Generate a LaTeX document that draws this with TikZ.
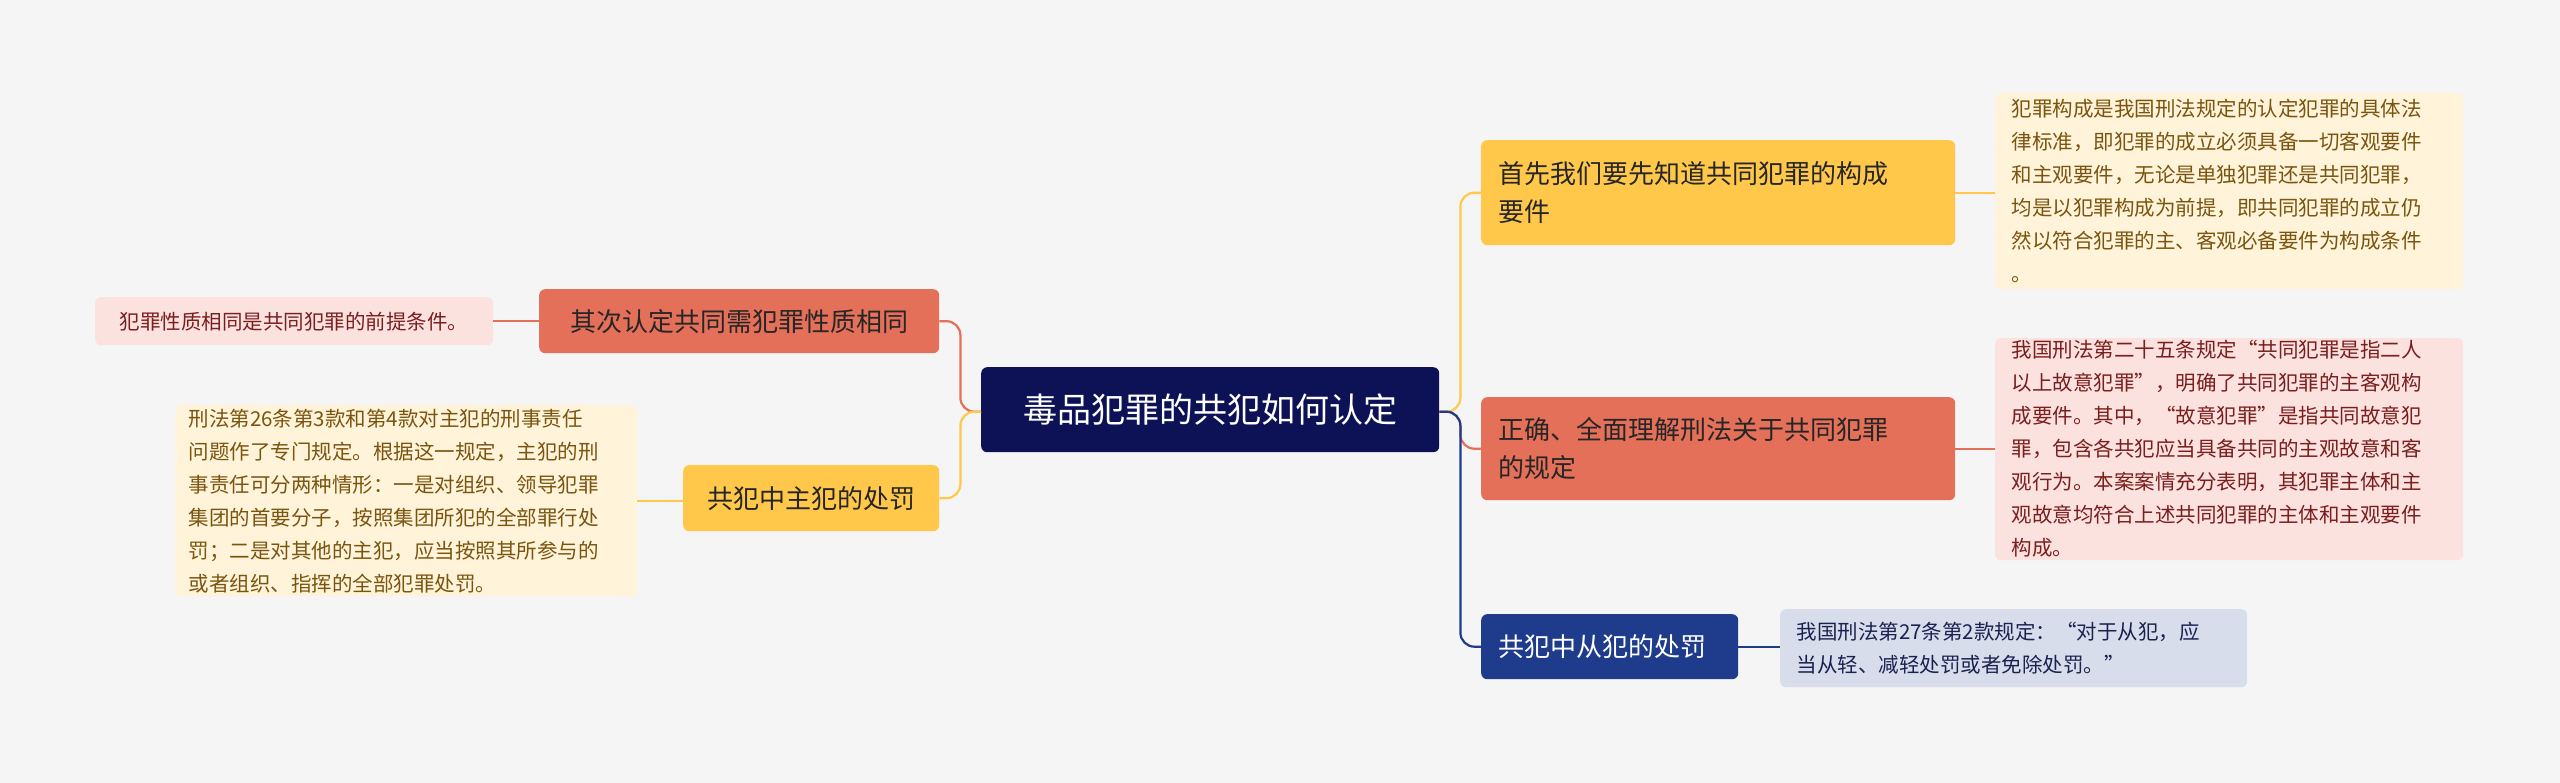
\documentclass[tikz,border=0pt]{standalone}
\usepackage{fontspec}
\setmainfont{Noto Sans CJK SC}
\begin{document}
\begin{tikzpicture}[x=1pt,y=-1pt,
 box/.style={rounded corners=6pt,inner sep=0pt,anchor=north west,align=left},
 leaftxt/.style={font=\fontsize{20.5}{33}\selectfont},
 brtxt/.style={font=\fontsize{26}{38}\selectfont},
 con/.style={line width=2.2pt,rounded corners=14pt}]
\definecolor{bg}{HTML}{F5F5F5}
\definecolor{navy}{HTML}{0D1155}
\definecolor{yel}{HTML}{FFC84A}
\definecolor{yell}{HTML}{FFF3D9}
\definecolor{yelt}{HTML}{7A5510}
\definecolor{sal}{HTML}{E5705A}
\definecolor{pink}{HTML}{FBE2DF}
\definecolor{pinkt}{HTML}{7A1E1E}
\definecolor{blu}{HTML}{1F3C8C}
\definecolor{blul}{HTML}{D8DDEC}
\definecolor{blut}{HTML}{1A2250}
\fill[bg] (0,0) rectangle (2560,783);
\useasboundingbox (0,0) rectangle (2560,783);
% center
\node[box,fill=navy,minimum width=458pt,minimum height=85pt] (c) at (981,367) {};
\node[text=white,font=\fontsize{34}{40}\selectfont] (ct) at (c.center) {毒品犯罪的共犯如何认定};
% right branches
\node[box,fill=yel,minimum width=474pt,minimum height=105pt] (r1) at (1481,140) {};
\node[brtxt,anchor=west,align=left,text=black!85] (r1t) at ([xshift=14pt]r1.west) {首先我们要先知道共同犯罪的构成\\要件};
\node[box,fill=sal,minimum width=474pt,minimum height=103pt] (r2) at (1481,397) {};
\node[brtxt,anchor=west,align=left,text=black!85] (r2t) at ([xshift=14pt]r2.west) {正确、全面理解刑法关于共同犯罪\\的规定};
\node[box,fill=blu,minimum width=257pt,minimum height=65pt] (r3) at (1481,614) {};
\node[brtxt,anchor=west,text=white] (r3t) at ([xshift=14pt]r3.west) {共犯中从犯的处罚};
% right leaves
\node[box,fill=yell,minimum width=468pt,minimum height=196pt] (l1) at (1995,93) {};
\node[leaftxt,anchor=west,align=left,text=yelt] (l1t) at ([xshift=13pt]l1.west) {犯罪构成是我国刑法规定的认定犯罪的具体法\\律标准，即犯罪的成立必须具备一切客观要件\\和主观要件，无论是单独犯罪还是共同犯罪，\\均是以犯罪构成为前提，即共同犯罪的成立仍\\然以符合犯罪的主、客观必备要件为构成条件\\。};
\node[box,fill=pink,minimum width=468pt,minimum height=222pt] (l2) at (1995,338) {};
\node[leaftxt,anchor=west,align=left,text=pinkt] (l2t) at ([xshift=13pt]l2.west) {我国刑法第二十五条规定“共同犯罪是指二人\\以上故意犯罪”，明确了共同犯罪的主客观构\\成要件。其中，“故意犯罪”是指共同故意犯\\罪，包含各共犯应当具备共同的主观故意和客\\观行为。本案案情充分表明，其犯罪主体和主\\观故意均符合上述共同犯罪的主体和主观要件\\构成。};
\node[box,fill=blul,minimum width=467pt,minimum height=78pt] (l3) at (1780,609) {};
\node[leaftxt,anchor=west,align=left,text=blut] (l3t) at ([xshift=13pt]l3.west) {我国刑法第27条第2款规定：“对于从犯，应\\当从轻、减轻处罚或者免除处罚。”};
% left branches
\node[box,fill=sal,minimum width=400pt,minimum height=64pt] (a1) at (539,289) {};
\node[brtxt,text=black!85] (a1t) at (a1.center) {其次认定共同需犯罪性质相同};
\node[box,fill=yel,minimum width=256pt,minimum height=66pt] (a2) at (683,465) {};
\node[brtxt,text=black!85] (a2t) at (a2.center) {共犯中主犯的处罚};
\node[box,fill=pink,minimum width=398pt,minimum height=48pt] (b1) at (95,297) {};
\node[leaftxt,text=pinkt] (b1t) at (b1.center) {犯罪性质相同是共同犯罪的前提条件。};
\node[box,fill=yell,minimum width=462pt,minimum height=191pt] (b2) at (175,405) {};
\node[leaftxt,anchor=west,align=left,text=yelt] (b2t) at ([xshift=10pt]b2.west) {刑法第26条第3款和第4款对主犯的刑事责任\\问题作了专门规定。根据这一规定，主犯的刑\\事责任可分两种情形：一是对组织、领导犯罪\\集团的首要分子，按照集团所犯的全部罪行处\\罚；二是对其他的主犯，应当按照其所参与的\\或者组织、指挥的全部犯罪处罚。};
% connectors
\draw[con,yel] ([yshift=-2pt]c.east) -- ++(21,0) |- (r1.west);
\draw[con,sal] ([yshift=-2pt]c.east) -- ++(21,0) |- (r2.west);
\draw[con,blu] ([yshift=-2pt]c.east) -- ++(21,0) |- (r3.west);
\draw[con,yel] (r1.east) -- (l1.west|-r1.east);
\draw[con,sal] (r2.east) -- (l2.west|-r2.east);
\draw[con,blu] (r3.east) -- (l3.west|-r3.east);
\draw[con,sal] (a1.east) -- ++(21,0) |- ([yshift=-2pt]c.west);
\draw[con,yel] (a2.east) -- ++(21,0) |- ([yshift=-2pt]c.west);
\draw[con,sal] (b1.east) -- (a1.west|-b1.east);
\draw[con,yel] (b2.east) -- (a2.west|-b2.east);
\end{tikzpicture}
\end{document}
